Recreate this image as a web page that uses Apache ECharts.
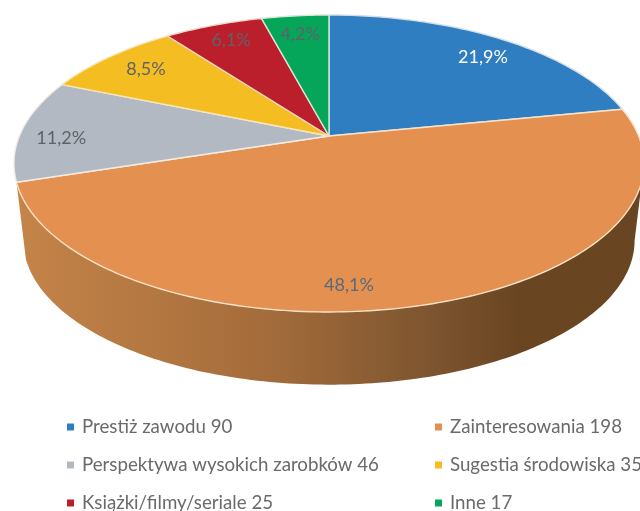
<!DOCTYPE html>
<html>
<head>
<meta charset="utf-8">
<style>
  html, body { margin: 0; padding: 0; background: #fff; }
  #chart { width: 640px; height: 511px; }
</style>
<script src="https://cdn.jsdelivr.net/npm/echarts@6/dist/echarts.min.js"></script>
</head>
<body>
<div id="chart"></div>
<script>
// data
const categories = ['Prestiż zawodu', 'Zainteresowania', 'Perspektywa wysokich zarobków', 'Sugestia środowiska', 'Książki/filmy/seriale', 'Inne'];
const counts = [90, 198, 46, 35, 25, 17];
const percentLabels = ['21,9%', '48,1%', '11,2%', '8,5%', '6,1%', '4,2%'];

// styles
const colors = ['#2E7EC1', '#E39050', '#B2B9C2', '#F4BE22', '#BB1F2C', '#05A65A'];
const edgeColors = ['#d5dde6', '#f7e2c8', '#f2ece2', '#f8e6b8', '#f0d8c8', '#d8e8d8'];
const labelColors = ['#ffffff', '#5a6a7c', '#5f6368', '#5f6368', '#5f6368', '#5f6368'];
// label placement: turn from the slice's middle (degrees) and radius share
const labelTurn = [2.7, 10.9, -3.3, 0.4, 0.5, 0];
const labelRadius = [0.826, 0.873, 0.863, 0.824, 0.845, 0.826];

// pie geometry, perspective view of a disc
const CX = 329, CY = 136;
const SCALE_X = 309.6, SCALE_Y = 143.4, TILT = -0.185;
const DEPTH = 78, BOTTOM_SCALE = 0.97;

const total = counts.reduce((a, b) => a + b, 0);

// angle in degrees clockwise from top, r share of radius -> pixel
function project(deg, r) {
  const t = deg * Math.PI / 180;
  const x = r * Math.sin(t);
  const y = -r * Math.cos(t);
  const d = 1 + TILT * y;
  return [CX + SCALE_X * x / d, CY + SCALE_Y * y / d];
}
function projectBottom(deg) {
  const p = project(deg, 1);
  return [CX + (p[0] - CX) * BOTTOM_SCALE, CY + DEPTH + (p[1] - CY) * BOTTOM_SCALE];
}
function startAngle(index) {
  let sum = 0;
  for (let i = 0; i < index; i++) sum += counts[i];
  return sum / total * 360;
}
function arc(from, to, fn) {
  const pts = [];
  const step = to > from ? 1 : -1;
  for (let a = from; step > 0 ? a < to : a > to; a += step) pts.push(fn(a));
  pts.push(fn(to));
  return pts;
}

function renderSlice(params, api) {
  const i = params.seriesIndex;
  const from = startAngle(i);
  const to = from + api.value(0) / total * 360;
  const children = [];

  // side wall, only the big front slice shows one
  if (from < 180 && to > 180) {
    const wallFrom = 90 + Math.asin(-TILT) * 180 / Math.PI;
    const wall = arc(wallFrom, to, a => project(a, 1))
      .concat(arc(to, wallFrom, projectBottom));
    children.push({
      type: 'polygon',
      shape: { points: wall },
      style: {
        fill: {
          type: 'linear', x: 0, y: 0, x2: 1, y2: 0,
          colorStops: [
            { offset: 0, color: '#C58449' },
            { offset: 0.4, color: '#A46C3B' },
            { offset: 0.65, color: '#7F5630' },
            { offset: 0.8, color: '#6A4522' },
            { offset: 1, color: '#6A4522' }
          ]
        }
      }
    });
  }

  // top face
  const face = [[CX, CY]].concat(arc(from, to, a => project(a, 1)));
  children.push({
    type: 'polygon',
    shape: { points: face },
    style: { fill: colors[i], stroke: edgeColors[i], lineWidth: 1.4, lineJoin: 'round' }
  });

  // percent label
  const mid = (from + to) / 2 + labelTurn[i];
  const pos = project(mid, labelRadius[i]);
  children.push({
    type: 'text',
    x: pos[0],
    y: pos[1],
    z2: 10,
    style: {
      text: percentLabels[i],
      fill: labelColors[i],
      font: '18px Lato',
      align: 'center',
      verticalAlign: 'middle'
    }
  });
  return { type: 'group', children: children };
}

const legendStyle = {
  orient: 'vertical',
  icon: 'rect',
  itemWidth: 7,
  itemHeight: 7,
  itemGap: 16,
  height: 130,
  selectedMode: false,
  padding: 0,
  textStyle: { fontFamily: 'Lato', fontSize: 18.7, color: '#6a6a6a', padding: [0, 0, 0, 3], lineHeight: 22 }
};
const names = categories.map((c, i) => c + ' ' + counts[i]);

const myChart = echarts.init(document.getElementById('chart'), null, { renderer: 'canvas' });
myChart.setOption({
  animation: false,
  backgroundColor: '#ffffff',
  legend: [
    Object.assign({}, legendStyle, { left: 67, top: 416, data: names.filter((n, i) => i % 2 === 0) }),
    Object.assign({}, legendStyle, { left: 435, top: 416, data: names.filter((n, i) => i % 2 === 1) })
  ],
  series: names.map((n, i) => ({
    type: 'custom',
    name: n,
    coordinateSystem: 'none',
    silent: true,
    clip: false,
    itemStyle: { color: colors[i] },
    data: [[counts[i]]],
    renderItem: renderSlice
  }))
});
</script>
</body>
</html>
